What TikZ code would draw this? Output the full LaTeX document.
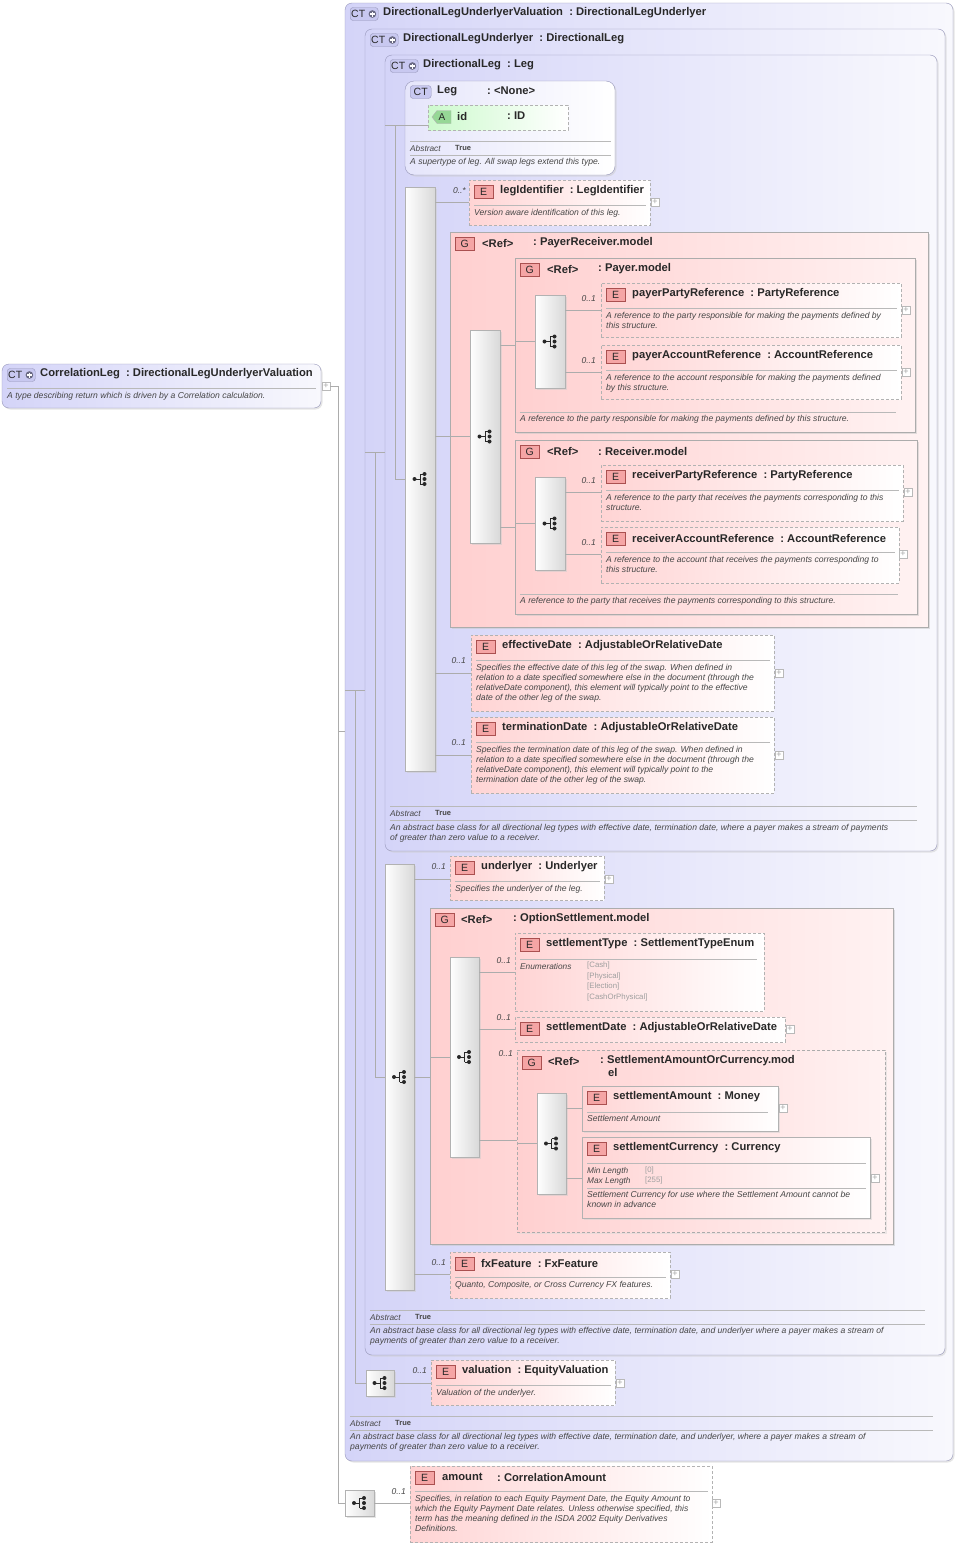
\documentclass[tikz,border=0pt]{standalone}
\usepackage{fontspec}
\setmainfont{Liberation Sans}
\usetikzlibrary{shadows}
\definecolor{ctL}{RGB}{212,212,248}
\definecolor{ctR}{RGB}{248,248,253}
\definecolor{ctB}{RGB}{150,150,185}
\definecolor{ctF}{RGB}{200,200,240}
\definecolor{eL}{RGB}{255,212,212}
\definecolor{gL}{RGB}{255,208,208}
\definecolor{gR}{RGB}{255,242,242}
\definecolor{eF}{RGB}{245,165,165}
\definecolor{eB}{RGB}{170,80,80}
\definecolor{aL}{RGB}{205,250,205}
\definecolor{aF}{RGB}{150,215,150}
\definecolor{txt}{RGB}{40,40,40}
\definecolor{dtxt}{RGB}{70,70,70}
\newcommand\B[6]{\node[#1,anchor=north west,minimum width={#5-#3},minimum height={#6-#4}] (#2) at (#3,#4) {};}
\newcommand\Badge[5]{\node[badge,#5] (#1) at (#2,#3) {#4};}
\newcommand\CTB[3]{\node[badge,draw=ctB,fill=ctF,rounded corners=3,minimum width=28,text width=26,align=left,inner xsep=1] (#1) at (#2,#3) {CT};
  \fill[ctB!70!black] ([xshift=-6pt]#1.east) circle (3.8);
  \draw[white,line width=1.3] ([xshift=-8.5pt]#1.east) -- ([xshift=-3.5pt]#1.east) ([xshift=-6pt,yshift=2.5pt]#1.east) -- ([xshift=-6pt,yshift=-2.5pt]#1.east);}
\begin{document}
\begin{tikzpicture}[x=1pt,y=-1pt,
  box/.style={inner sep=0,outer sep=0},
  ct/.style={box,draw=ctB,rounded corners=7,left color=ctL,right color=ctR,drop shadow={shadow xshift=1.5pt,shadow yshift=-1.5pt,fill=gray!40}},
  leg/.style={box,draw=ctB,rounded corners=9,left color=ctL!60,right color=white,drop shadow={shadow xshift=1.5pt,shadow yshift=-1.5pt,fill=gray!40}},
  gbox/.style={box,draw=gray!65,left color=gL,right color=gR,drop shadow={shadow xshift=2pt,shadow yshift=-2pt,fill=gray!45}},
  gdash/.style={box,draw=gray!65,dash pattern=on 3pt off 2pt,left color=gL,right color=gR,drop shadow={shadow xshift=2pt,shadow yshift=-2pt,fill=gray!30}},
  ebox/.style={box,draw=gray!60,dash pattern=on 3pt off 2pt,left color=eL,right color=white},
  esol/.style={box,draw=gray!60,left color=eL,right color=white,drop shadow={shadow xshift=1.5pt,shadow yshift=-1.5pt,fill=gray!35}},
  abox/.style={box,draw=gray!60,dash pattern=on 3pt off 2pt,left color=aL,right color=white},
  seq/.style={box,draw=gray!60,left color=white,right color=gray!30,drop shadow={shadow xshift=1.5pt,shadow yshift=-1.5pt,fill=gray!40}},
  badge/.style={draw=eB,fill=eF,font=\fontsize{10.5}{11}\selectfont,text=txt,minimum width=19,minimum height=13,inner sep=0,anchor=west},
  ttl/.style={font=\fontsize{11.2}{13}\selectfont\bfseries,text=txt,inner sep=0,anchor=west},
  dsc/.style={font=\fontsize{8.6}{10}\selectfont\itshape,text=dtxt,inner sep=0,anchor=north west,align=left},
  card/.style={font=\fontsize{8.5}{9}\selectfont\itshape,text=dtxt,inner sep=0,anchor=east},
  small/.style={font=\fontsize{8.3}{9}\selectfont\itshape,text=dtxt,inner sep=0,anchor=west},
  tru/.style={font=\fontsize{7.5}{9}\selectfont\bfseries,text=dtxt,inner sep=0,anchor=west},
  enum/.style={font=\fontsize{7.8}{10.5}\selectfont,text=gray!75,inner sep=0,anchor=north west,align=left},
  plus/.style={draw=gray!55,fill=white,minimum size=8,inner sep=0,font=\fontsize{9}{9}\selectfont,text=gray!70},
  sep/.style={draw=gray!55,line width=0.6},
  conn/.style={draw=gray!65,line width=0.7},
  seqicon/.pic={\fill[txt] (-5.5,0) circle (2); \draw[txt,line width=1] (-5.5,0)--(0,0) (0,-5)--(0,5) (0,-5)--(4,-5) (0,5)--(4,5);
     \fill[txt] (4.5,-5) circle (2) (4.5,0) circle (2) (4.5,5) circle (2);}
]
\useasboundingbox (0,0) rectangle (958,1547);
\fill[white] (0,0) rectangle (958,1547);

% ---------- CorrelationLeg
\B{ct}{cl}{2}{364}{321}{408}
\CTB{clb}{7}{375}
\node[ttl] (clt) at (40,374) {CorrelationLeg\ \ :\ DirectionalLegUnderlyerValuation};
\draw[sep] (7,388)--(316,388);
\node[dsc] (cld) at (7,392) {A type describing return which is driven by a Correlation calculation.};
\node[plus] (clp) at (326,386) {+};

% ---------- Outer CT
\B{ct}{o1}{345}{3}{953}{1461}
\CTB{o1b}{350}{14}
\node[ttl] (o1t) at (383,13) {DirectionalLegUnderlyerValuation\ \ :\ DirectionalLegUnderlyer};
\B{ct}{o2}{365}{29}{945}{1355}
\CTB{o2b}{370}{40}
\node[ttl] (o2t) at (403,39) {DirectionalLegUnderlyer\ \ :\ DirectionalLeg};
\B{ct}{o3}{385}{55}{937}{851}
\CTB{o3b}{390}{66}
\node[ttl] (o3t) at (423,65) {DirectionalLeg\ \ :\ Leg};

% Leg
\B{leg}{lg}{405}{81}{615}{175}
\node[badge,draw=ctB,fill=ctF,rounded corners=3,minimum width=21] (lgb) at (410,92) {CT};
\node[ttl] (lgt) at (437,91) {Leg};
\node[ttl] (lgt2) at (487,91) {:\ <None>};
\B{abox}{id}{428}{105}{568}{130}
\draw[draw=gray!60,fill=aF] (432,117)--(437,110.5)--(451,110.5)--(451,123.5)--(437,123.5)--cycle;
\node[inner sep=0,font=\fontsize{10}{10}\selectfont,text=txt] (idb) at (442,117) {A};
\node[ttl] (idt) at (457,116) {id};
\node[ttl] (idt2) at (507,116) {:\ ID};
\draw[sep] (410,141)--(611,141);
\node[small] (lga) at (410,148.5) {Abstract};
\node[tru] (lgtr) at (455,147.5) {True};
\draw[sep] (410,155)--(611,155);
\node[dsc] (lgd) at (410,158) {A supertype of leg. All swap legs extend this type.};

% seq 1
\B{seq}{s1}{405}{187}{435}{771}
\pic at (s1.center) {seqicon};

% legIdentifier
\B{ebox}{li}{469}{180}{650}{225}
\Badge{lib}{474}{192}{E}{}
\node[ttl] (lit) at (500,191) {legIdentifier\ \ :\ LegIdentifier};
\draw[sep] (474,205)--(646,205);
\node[dsc] (lid) at (474,209) {Version aware identification of this leg.};
\node[plus] (lip) at (655,202) {+};
\node[card] (lic) at (466,191) {0..*};

% PayerReceiver.model
\B{gbox}{pr}{450}{232}{928}{627}
\Badge{prb}{455}{244}{G}{}
\node[ttl] (prt) at (482,243) {<Ref>};
\node[ttl] (prt2) at (533,243) {:\ PayerReceiver.model};
\B{seq}{s2}{470}{330}{500}{543}
\pic at (s2.center) {seqicon};

% Payer.model
\B{gbox}{pm}{515}{258}{915}{432}
\Badge{pmb}{520}{270}{G}{}
\node[ttl] (pmt) at (547,269) {<Ref>};
\node[ttl] (pmt2) at (598,269) {:\ Payer.model};
\B{seq}{s3}{535}{295}{565}{388}
\pic at (s3.center) {seqicon};
\B{ebox}{pp}{601}{283}{901}{337}
\Badge{ppb}{606}{295}{E}{}
\node[ttl] (ppt) at (632,294) {payerPartyReference\ \ :\ PartyReference};
\draw[sep] (606,308)--(897,308);
\node[dsc] (ppd) at (606,312) {A reference to the party responsible for making the payments defined by\\this structure.};
\node[plus] (ppp) at (906,310) {+};
\node[card] (ppc) at (596,299) {0..1};
\B{ebox}{pa}{601}{345}{901}{399}
\Badge{pab}{606}{357}{E}{}
\node[ttl] (pat) at (632,356) {payerAccountReference\ \ :\ AccountReference};
\draw[sep] (606,370)--(897,370);
\node[dsc] (pad) at (606,374) {A reference to the account responsible for making the payments defined\\by this structure.};
\node[plus] (pap) at (906,372) {+};
\node[card] (pac) at (596,361) {0..1};
\draw[sep] (520,412)--(896,412);
\node[dsc] (pmd) at (520,415) {A reference to the party responsible for making the payments defined by this structure.};

% Receiver.model
\B{gbox}{rm}{515}{440}{917}{614}
\Badge{rmb}{520}{452}{G}{}
\node[ttl] (rmt) at (547,451) {<Ref>};
\node[ttl] (rmt2) at (598,451) {:\ Receiver.model};
\B{seq}{s4}{535}{477}{565}{570}
\pic at (s4.center) {seqicon};
\B{ebox}{rp}{601}{465}{903}{521}
\Badge{rpb}{606}{477}{E}{}
\node[ttl] (rpt) at (632,476) {receiverPartyReference\ \ :\ PartyReference};
\draw[sep] (606,490)--(899,490);
\node[dsc] (rpd) at (606,494) {A reference to the party that receives the payments corresponding to this\\structure.};
\node[plus] (rpp) at (908,492) {+};
\node[card] (rpc) at (596,481) {0..1};
\B{ebox}{ra}{601}{527}{899}{583}
\Badge{rab}{606}{539}{E}{}
\node[ttl] (rat) at (632,538) {receiverAccountReference\ \ :\ AccountReference};
\draw[sep] (606,552)--(895,552);
\node[dsc] (rad) at (606,556) {A reference to the account that receives the payments corresponding to\\this structure.};
\node[plus] (rap) at (903,554) {+};
\node[card] (rac) at (596,543) {0..1};
\draw[sep] (520,594)--(898,594);
\node[dsc] (rmd) at (520,597) {A reference to the party that receives the payments corresponding to this structure.};

% effectiveDate
\B{ebox}{ed}{471}{635}{774}{711}
\Badge{edb}{476}{647}{E}{}
\node[ttl] (edt) at (502,646) {effectiveDate\ \ :\ AdjustableOrRelativeDate};
\draw[sep] (476,660)--(770,660);
\node[dsc] (edd) at (476,664) {Specifies the effective date of this leg of the swap. When defined in\\relation to a date specified somewhere else in the document (through the\\relativeDate component), this element will typically point to the effective\\date of the other leg of the swap.};
\node[plus] (edp) at (779,673) {+};
\node[card] (edc) at (466,661) {0..1};
% terminationDate
\B{ebox}{td}{471}{717}{774}{793}
\Badge{tdb}{476}{729}{E}{}
\node[ttl] (tdt) at (502,728) {terminationDate\ \ :\ AdjustableOrRelativeDate};
\draw[sep] (476,742)--(770,742);
\node[dsc] (tdd) at (476,746) {Specifies the termination date of this leg of the swap. When defined in\\relation to a date specified somewhere else in the document (through the\\relativeDate component), this element will typically point to the\\termination date of the other leg of the swap.};
\node[plus] (tdp) at (779,755) {+};
\node[card] (tdc) at (466,743) {0..1};

\draw[sep] (390,806)--(917,806);
\node[small] (o3a) at (390,814) {Abstract};
\node[tru] (o3tr) at (435,813) {True};
\draw[sep] (390,820)--(917,820);
\node[dsc] (o3d) at (390,824) {An abstract base class for all directional leg types with effective date, termination date, where a payer makes a stream of payments\\of greater than zero value to a receiver.};

% ---------- seq DLU
\B{seq}{s5}{385}{864}{414}{1290}
\pic at (s5.center) {seqicon};
\B{ebox}{ul}{450}{856}{604}{900}
\Badge{ulb}{455}{868}{E}{}
\node[ttl] (ult) at (481,867) {underlyer\ \ :\ Underlyer};
\draw[sep] (455,881)--(600,881);
\node[dsc] (uld) at (455,885) {Specifies the underlyer of the leg.};
\node[plus] (ulp) at (609,879) {+};
\node[card] (ulc) at (446,867) {0..1};

% OptionSettlement.model
\B{gbox}{os}{430}{908}{893}{1244}
\Badge{osb}{435}{920}{G}{}
\node[ttl] (ost) at (461,919) {<Ref>};
\node[ttl] (ost2) at (513,919) {:\ OptionSettlement.model};
\B{seq}{s6}{450}{957}{479}{1157}
\pic at (s6.center) {seqicon};
\B{ebox}{st}{515}{933}{764}{1011}
\Badge{stb}{520}{945}{E}{}
\node[ttl] (stt) at (546,944) {settlementType\ \ :\ SettlementTypeEnum};
\draw[sep] (520,959)--(757,959);
\node[small] (ste) at (520,967) {Enumerations};
\node[enum] (stv) at (587,962) {{[Cash]}\\{[Physical]}\\{[Election]}\\{[CashOrPhysical]}};
\node[card] (stc) at (511,961) {0..1};
\B{ebox}{sd}{515}{1017}{785}{1042}
\Badge{sdb}{520}{1029}{E}{}
\node[ttl] (sdt) at (546,1028) {settlementDate\ \ :\ AdjustableOrRelativeDate};
\node[plus] (sdp) at (790,1029) {+};
\node[card] (sdc) at (511,1018) {0..1};
\B{gdash}{sa}{517}{1050}{885}{1232}
\Badge{sab}{522}{1063}{G}{}
\node[ttl] (sat) at (548,1061) {<Ref>};
\node[ttl,align=left,anchor=north west] (sat2) at (600,1055) {:\ SettlementAmountOrCurrency.mod\\\hspace{8pt}el};
\node[card] (sac) at (513,1054) {0..1};
\B{seq}{s7}{537}{1093}{566}{1194}
\pic at (s7.center) {seqicon};
\B{esol}{sm}{582}{1086}{778}{1131}
\Badge{smb}{587}{1098}{E}{}
\node[ttl] (smt) at (613,1097) {settlementAmount\ \ :\ Money};
\draw[sep] (587,1112)--(768,1112);
\node[dsc] (smd) at (587,1115) {Settlement Amount};
\node[plus] (smp) at (783,1108) {+};
\B{esol}{sc}{582}{1137}{870}{1218}
\Badge{scb}{587}{1149}{E}{}
\node[ttl] (sct) at (613,1148) {settlementCurrency\ \ :\ Currency};
\draw[sep] (587,1163)--(866,1163);
\node[small] (scm1) at (587,1171) {Min Length};
\node[small] (scm2) at (587,1181) {Max Length};
\node[enum,anchor=west] (scv1) at (645,1170) {{[0]}};
\node[enum,anchor=west] (scv2) at (645,1180) {{[255]}};
\draw[sep] (587,1188)--(866,1188);
\node[dsc] (scd) at (587,1191) {Settlement Currency for use where the Settlement Amount cannot be\\known in advance};
\node[plus] (scp) at (875,1178) {+};

% fxFeature
\B{ebox}{fx}{450}{1252}{670}{1298}
\Badge{fxb}{455}{1264}{E}{}
\node[ttl] (fxt) at (481,1263) {fxFeature\ \ :\ FxFeature};
\draw[sep] (455,1277)--(666,1277);
\node[dsc] (fxd) at (455,1281) {Quanto, Composite, or Cross Currency FX features.};
\node[plus] (fxp) at (675,1274) {+};
\node[card] (fxc) at (446,1263) {0..1};

\draw[sep] (370,1310)--(925,1310);
\node[small] (o2a) at (370,1318) {Abstract};
\node[tru] (o2tr) at (415,1317) {True};
\draw[sep] (370,1324)--(925,1324);
\node[dsc] (o2d) at (370,1327) {An abstract base class for all directional leg types with effective date, termination date, and underlyer where a payer makes a stream of\\payments of greater than zero value to a receiver.};

% valuation
\B{seq}{s8}{366}{1370}{394}{1396}
\pic at (s8.center) {seqicon};
\B{ebox}{va}{431}{1360}{615}{1405}
\Badge{vab}{436}{1372}{E}{}
\node[ttl] (vat) at (462,1371) {valuation\ \ :\ EquityValuation};
\draw[sep] (436,1385)--(611,1385);
\node[dsc] (vad) at (436,1389) {Valuation of the underlyer.};
\node[plus] (vap) at (620,1383) {+};
\node[card] (vac) at (427,1371) {0..1};

\draw[sep] (350,1416)--(933,1416);
\node[small] (o1a) at (350,1424) {Abstract};
\node[tru] (o1tr) at (395,1423) {True};
\draw[sep] (350,1430)--(933,1430);
\node[dsc] (o1d) at (350,1433) {An abstract base class for all directional leg types with effective date, termination date, and underlyer, where a payer makes a stream of\\payments of greater than zero value to a receiver.};

% amount
\B{seq}{s9}{345}{1490}{374}{1516}
\pic at (s9.center) {seqicon};
\B{ebox}{am}{410}{1466}{712}{1542}
\Badge{amb}{415}{1478}{E}{}
\node[ttl] (amt) at (442,1477) {amount};
\node[ttl] (amt2) at (497,1477) {:\ CorrelationAmount};
\draw[sep] (415,1491)--(708,1491);
\node[dsc] (amd) at (415,1495) {Specifies, in relation to each Equity Payment Date, the Equity Amount to\\which the Equity Payment Date relates. Unless otherwise specified, this\\term has the meaning defined in the ISDA 2002 Equity Derivatives\\Definitions.};
\node[plus] (amp) at (716,1503) {+};
\node[card] (amc) at (406,1492) {0..1};

% ---------- connectors
\coordinate (k1) at (338,731);
\coordinate (k2) at (355,690);
\coordinate (k3) at (375,452);
\coordinate (k4) at (395,125);
\draw[conn] (clp.east) -- (clp.east-|k1) -- (k1|-s9) -- (s9.west);
\draw[conn] (k1) -- (k1-|o1.west);
\draw[conn] (k2-|o1.west) -- (k2) -- (k2|-s8) -- (s8.west);
\draw[conn] (k2) -- (k2-|o2.west);
\draw[conn] (k3-|o2.west) -- (k3) -- (k3|-s5) -- (s5.west);
\draw[conn] (k3) -- (k3-|o3.west);
\draw[conn] (k4-|o3.west) -- (k4) -- (k4|-s1) -- (s1.west);
\draw[conn] (k4) -- (k4-|id.west);
\draw[conn] (s1.east|-lip) -- (lip-|li.west);
\draw[conn] (s1.east|-s2) -- (s2.west);
\draw[conn] (s1.east|-edp) -- (edp-|ed.west);
\draw[conn] (s1.east|-tdp) -- (tdp-|td.west);
\coordinate (k5) at (0,345); \coordinate (k6) at (0,527);
\draw[conn] (s2.east|-k5) -- (k5-|pm.west);
\draw[conn] (s2.east|-k6) -- (k6-|rm.west);
\draw[conn] (pm.west|-s3) -- (s3.west);
\draw[conn] (s3.east|-ppp) -- (ppp-|pp.west);
\draw[conn] (s3.east|-pap) -- (pap-|pa.west);
\draw[conn] (rm.west|-s4) -- (s4.west);
\draw[conn] (s4.east|-rpp) -- (rpp-|rp.west);
\draw[conn] (s4.east|-rap) -- (rap-|ra.west);
\draw[conn] (s5.east|-ulp) -- (ulp-|ul.west);
\draw[conn] (s5.east|-s5) -- (s5-|os.west);
\draw[conn] (s5.east|-fxp) -- (fxp-|fx.west);
\coordinate (k7) at (0,972); \coordinate (k8) at (0,1140);
\draw[conn] (os.west|-s6) -- (s6.west);
\draw[conn] (s6.east|-k7) -- (k7-|st.west);
\draw[conn] (s6.east|-sdp) -- (sdp-|sd.west);
\draw[conn] (s6.east|-k8) -- (k8-|sa.west);
\draw[conn] (sa.west|-s7) -- (s7.west);
\draw[conn] (s7.east|-smp) -- (smp-|sm.west);
\draw[conn] (s7.east|-scp) -- (scp-|sc.west);
\draw[conn] (s8.east) -- (s8.east-|va.west);
\draw[conn] (s9.east) -- (s9.east-|am.west);
\end{tikzpicture}
\end{document}
